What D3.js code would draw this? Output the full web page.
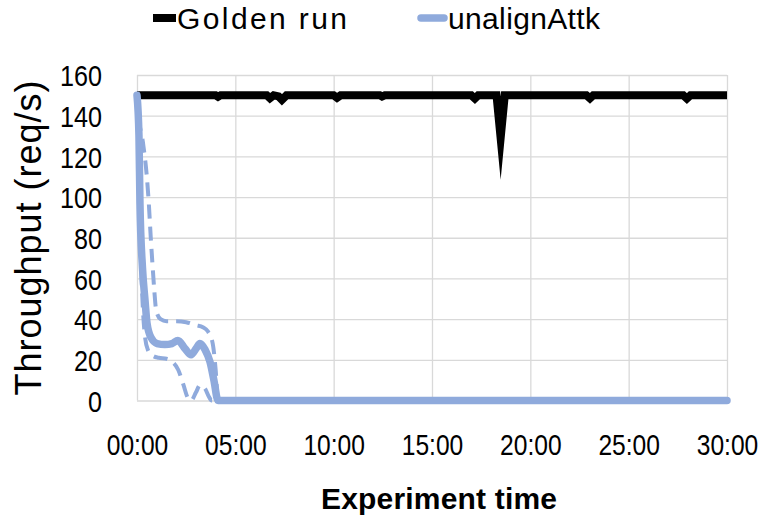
<!DOCTYPE html>
<html><head><meta charset="utf-8">
<script src="https://cdn.jsdelivr.net/npm/d3@7"></script>
<style>
body{margin:0;background:#fff}
svg text{font-family:"Liberation Sans","Arial",sans-serif;fill:#000}
</style>
</head><body>
<svg id="chart" width="763" height="522"></svg>
<script>
// ---- data (time in minutes) ----
const xTicks = [0, 5, 10, 15, 20, 25, 30];
const xTickLabels = ["00:00", "05:00", "10:00", "15:00", "20:00", "25:00", "30:00"];
const yTicks = [0, 20, 40, 60, 80, 100, 120, 140, 160];
const seriesNames = ["Golden run", "unalignAttk"];

const goldenTime  = [0, 4.0, 4.12, 4.25, 6.6, 6.76, 6.95, 7.2, 7.37, 7.6, 10.0, 10.17, 10.35, 12.35, 12.46, 12.6, 17.0, 17.18, 17.35, 18.28, 18.49, 18.7, 22.85, 23.03, 23.2, 27.78, 27.96, 28.14, 30];
const goldenValue = [150, 150, 149.3, 150, 150, 148.6, 150, 149.5, 147.8, 150, 150, 148.8, 150, 150, 149.4, 150, 150, 148.4, 150, 150, 129, 150, 150, 148.5, 150, 150, 148.4, 150, 150];

const attkTime  = [0, 0.1, 0.15, 0.28, 0.41, 0.51, 0.71, 1.02, 1.42, 1.78, 2.08, 2.44, 2.75, 3.0, 3.2, 3.46, 3.71, 3.91, 4.12, 30];
const attkValue = [150, 130, 97, 65, 49, 38, 31, 28, 27.5, 28, 29.5, 25.5, 22.5, 25.5, 28, 25, 19, 10, 0, 0];

const upperTime  = [0, 0.05, 0.3, 0.5, 0.6, 0.7, 0.78, 0.88, 0.98, 1.2, 1.5, 2.0, 2.5, 3.0, 3.35, 3.6, 3.85, 4.0, 4.12, 30];
const upperValue = [150, 142, 127, 110, 97, 80, 68, 54, 44, 40, 39, 39, 38.5, 37, 36, 34, 28, 15, 0, 0];

const lowerTime  = [0, 0.1, 0.2, 0.3, 0.4, 0.55, 0.8, 1.1, 1.5, 1.8, 2.1, 2.35, 2.6, 2.75, 3.0, 3.2, 3.45, 3.65, 3.8, 30];
const lowerValue = [150, 110, 70, 45, 32, 25, 22, 21, 20.5, 19, 15, 8, 1, 0, 4, 7.5, 6, 2, 0, 0];

// ---- layout ----
const svg = d3.select("#chart");
const mLeft = 137, mRight = 727, mTop = 75, mBottom = 400.5;
const x = d3.scaleLinear().domain([0, 30]).range([mLeft, mRight]);
const y = d3.scaleLinear().domain([0, 160]).range([mBottom, mTop]);
const grid = "#d9d9d9";

// horizontal gridlines + y tick labels
const gy = svg.append("g").attr("transform", `translate(${mLeft},0)`)
  .call(d3.axisLeft(y).tickValues(yTicks).tickSize(-(mRight - mLeft)).tickPadding(35).tickFormat(d3.format("d")));
gy.select(".domain").remove();
gy.selectAll(".tick line").attr("stroke", grid).attr("stroke-width", 1.3);
gy.selectAll(".tick text").attr("font-size", 30).attr("dy", "0.36em")
  .attr("textLength", d => String(d).length * 14).attr("lengthAdjust", "spacingAndGlyphs");

// vertical gridlines + x tick labels
const gx = svg.append("g").attr("transform", `translate(0,${mBottom})`)
  .call(d3.axisBottom(x).tickValues(xTicks).tickSize(-(mBottom - mTop)).tickPadding(33).tickFormat((d, i) => xTickLabels[i]));
gx.select(".domain").remove();
gx.selectAll(".tick line").attr("stroke", grid).attr("stroke-width", 1.3);
gx.selectAll(".tick text").attr("font-size", 30).attr("transform", "scale(0.82,1)");

const line = d3.line().x(d => x(d[0])).y(d => y(d[1]));
const smooth = d3.line().x(d => x(d[0])).y(d => y(d[1])).curve(d3.curveMonotoneX);
const blue = "#8faadc";

// golden run
svg.append("path").datum(d3.zip(goldenTime, goldenValue))
  .attr("d", line).attr("fill", "none").attr("stroke", "#000").attr("stroke-width", 8)
  .attr("stroke-linejoin", "miter").attr("stroke-miterlimit", 20);

// dashed bounds
[[upperTime, upperValue], [lowerTime, lowerValue]].forEach(([t, v]) => {
  svg.append("path").datum(d3.zip(t, v))
    .attr("d", smooth).attr("fill", "none").attr("stroke", blue).attr("stroke-width", 4)
    .attr("stroke-dasharray", "14,8");
});

// unalignAttk
svg.append("path").datum(d3.zip(attkTime, attkValue))
  .attr("d", smooth).attr("fill", "none").attr("stroke", blue).attr("stroke-width", 7.5)
  .attr("stroke-linecap", "round").attr("stroke-linejoin", "round");

// legend
const lg = svg.append("g");
lg.append("rect").attr("x", 153).attr("y", 14).attr("width", 23).attr("height", 8).attr("fill", "#000");
lg.append("text").attr("x", 177).attr("y", 29).attr("font-size", 30).attr("textLength", 170).text(seriesNames[0]);
lg.append("line").attr("x1", 421).attr("x2", 444).attr("y1", 18).attr("y2", 18)
  .attr("stroke", blue).attr("stroke-width", 7.5).attr("stroke-linecap", "round");
lg.append("text").attr("x", 448).attr("y", 29).attr("font-size", 30).attr("textLength", 152).text(seriesNames[1]);

// axis titles
svg.append("text").attr("transform", "translate(41,238) rotate(-90)").attr("text-anchor", "middle")
  .attr("font-size", 36).attr("textLength", 315).text("Throughput (req/s)");
svg.append("text").attr("x", 439).attr("y", 509).attr("text-anchor", "middle").attr("font-weight", "bold")
  .attr("font-size", 30).attr("textLength", 236).text("Experiment time");
</script>
</body></html>
